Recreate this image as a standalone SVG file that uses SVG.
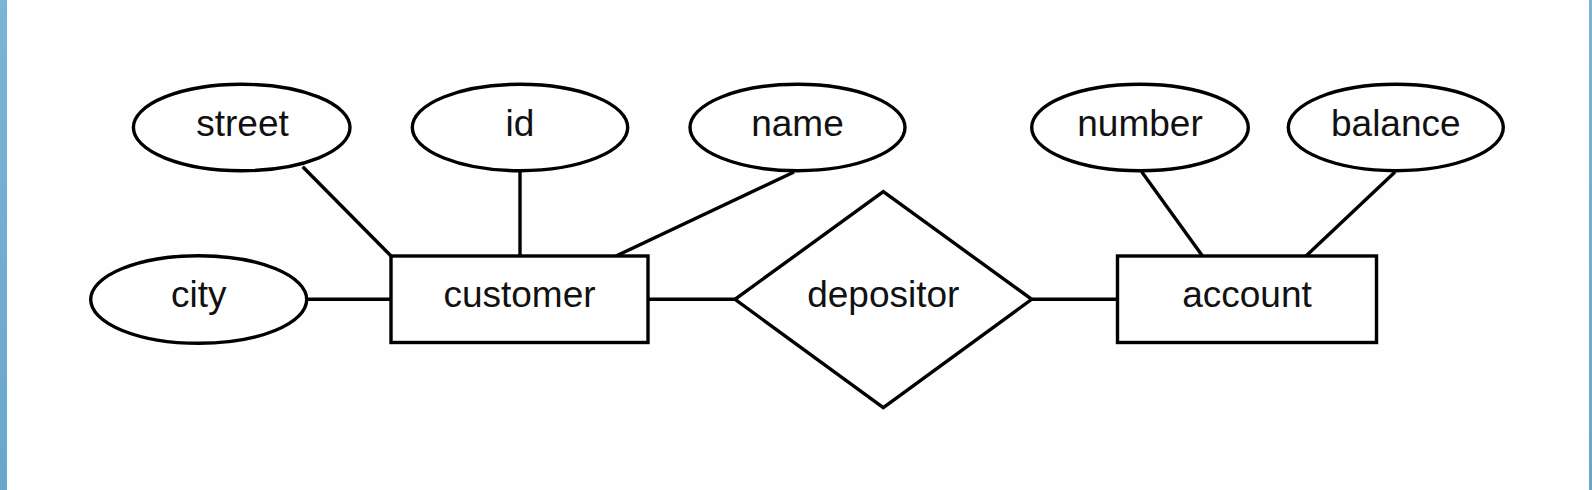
<svg xmlns="http://www.w3.org/2000/svg" width="1592" height="490" viewBox="0 0 1592 490">
  <defs>
    <linearGradient id="bar" x1="0" y1="0" x2="0" y2="1">
      <stop offset="0" stop-color="#7bb4d4"/>
      <stop offset="1" stop-color="#68a7cb"/>
    </linearGradient>
    <style>
      .shape { fill: #ffffff; stroke: #000000; stroke-width: 3.4; }
      .conn line { stroke: #000000; stroke-width: 3.4; }
      text { font-family: "Liberation Sans", Arial, sans-serif; font-size: 37px; fill: #111111; text-anchor: middle; }
    </style>
  </defs>
  <rect x="0" y="0" width="1592" height="490" fill="#fefefe"/>
  <rect x="0" y="0" width="7" height="490" fill="url(#bar)"/>
  <rect x="1589" y="0" width="3" height="490" fill="url(#bar)"/>

  <g id="connectors" class="conn">
    <line x1="302.7" y1="166.7" x2="391" y2="256"/>
    <line x1="520" y1="171" x2="520" y2="256"/>
    <line x1="794" y1="172" x2="616" y2="256"/>
    <line x1="306.7" y1="299.3" x2="391" y2="299.3"/>
    <line x1="648" y1="299.3" x2="735" y2="299.3"/>
    <line x1="1032" y1="299.3" x2="1117.5" y2="299.3"/>
    <line x1="1141.5" y1="171.5" x2="1202.5" y2="256"/>
    <line x1="1395" y1="172" x2="1306" y2="256"/>
  </g>

  <g id="street">
    <ellipse class="shape" cx="241.7" cy="127.5" rx="108.3" ry="43.2"/>
    <text x="242.5" y="136">street</text>
  </g>
  <g id="id">
    <ellipse class="shape" cx="520" cy="127.5" rx="107.7" ry="43.2"/>
    <text x="520" y="136">id</text>
  </g>
  <g id="name">
    <ellipse class="shape" cx="797.5" cy="127.5" rx="107.5" ry="43.2"/>
    <text x="797.5" y="136">name</text>
  </g>
  <g id="number">
    <ellipse class="shape" cx="1140" cy="127.5" rx="108.3" ry="43.2"/>
    <text x="1140" y="136">number</text>
  </g>
  <g id="balance">
    <ellipse class="shape" cx="1395.8" cy="127.5" rx="107.5" ry="43.2"/>
    <text x="1395.8" y="136">balance</text>
  </g>
  <g id="city">
    <ellipse class="shape" cx="198.7" cy="299.5" rx="108" ry="43.8"/>
    <text x="198.7" y="307">city</text>
  </g>
  <g id="customer">
    <rect class="shape" x="391" y="256" width="257" height="86.5"/>
    <text x="519.5" y="307">customer</text>
  </g>
  <g id="depositor">
    <polygon class="shape" points="883.3,191.7 1031.7,299.3 883.3,407.7 735,299.3"/>
    <text x="883.3" y="307">depositor</text>
  </g>
  <g id="account">
    <rect class="shape" x="1117.5" y="256" width="259" height="86.5"/>
    <text x="1247" y="307">account</text>
  </g>
</svg>
